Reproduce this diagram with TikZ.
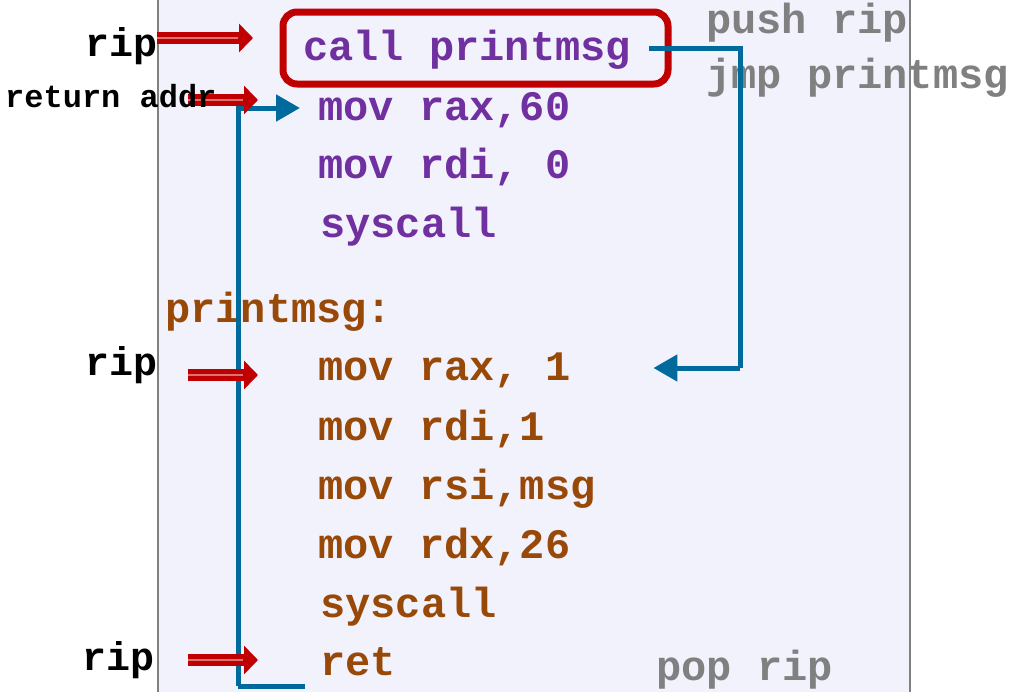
\documentclass[tikz,border=0pt]{standalone}
\usepackage{fontspec}
\newfontfamily\codefont{Liberation Mono}
\usetikzlibrary{arrows.meta}

\definecolor{cpurple}{HTML}{7030A0}
\definecolor{cbrown}{HTML}{984807}
\definecolor{chint}{HTML}{808080}
\definecolor{cred}{HTML}{C00000}
\definecolor{cflow}{HTML}{006A9C}
\definecolor{cpanel}{HTML}{F2F2FD}

% thick red pointer with a light stripe along the shaft
\newcommand{\ripptr}[2]{%
    \draw[ptr] (#1) -- (#2);
    \draw[ptrglint] (#1) -- ([xshift=-15pt]#2);
}

\begin{document}
\begin{tikzpicture}[x=1pt, y=-1pt,
    code/.style={font=\fontsize{42}{42}\selectfont\codefont\bfseries, inner sep=0pt, text height=24pt, text depth=0pt, anchor=base west},
    main/.style={code, text=cpurple},
    sub/.style={code, text=cbrown},
    hint/.style={code, text=chint},
    reg/.style={font=\fontsize{40}{40}\selectfont\codefont\bfseries, inner sep=0pt, anchor=base east},
    ptr/.style={cred, line width=12pt, -{Triangle[length=14pt, width=28pt]}},
    ptrglint/.style={cred!55!white, line width=2.5pt},
    flow/.style={cflow, line width=5pt},
    callbox/.style={cred, line width=7pt, rounded corners=14pt},
]
\useasboundingbox (0,0) rectangle (1009,691);

% Code panel
\fill[cpanel] (158,-10) rectangle (910,700);
\draw[chint, line width=2pt] (158,-10) -- (158,700);
\draw[chint, line width=2pt] (910,-10) -- (910,700);

% --- main ---
\node[main] (call) at (303,60) {call printmsg};
\node[main] (m0)   at (318,120) {mov rax,60};
\node[main] (m1)   at (318,178) {mov rdi, 0};
\node[main] (m2)   at (320,237) {syscall};

% --- printmsg ---
\node[sub] (lbl) at (165,322) {printmsg:};
\node[sub] (p0)  at (318,380) {mov rax, 1};
\node[sub] (p1)  at (318,440) {mov rdi,1};
\node[sub] (p2)  at (318,499) {mov rsi,msg};
\node[sub] (p3)  at (318,558) {mov rdx,26};
\node[sub] (p4)  at (320,617) {syscall};
\node[sub] (ret) at (320,675) {ret};

% What call / ret really do
\node[hint] (push) at (706,33) {push rip};
\node[hint] (jmp)  at (706,88) {jmp printmsg};
\node[hint] (pop)  at (656,680) {pop rip};

% Box round the call
\draw[callbox] (283,12) rectangle (668,84);

% Jump into printmsg and back
\coordinate (jump) at (740,368);
\coordinate (back) at (238,686);
\draw[flow] ([xshift=18pt]call.east) -| (jump);
\draw[flow, -{Triangle[length=24pt, width=26pt]}] (jump) -- ([xshift=83pt]p0.east);
\draw[flow] ([xshift=-15pt]ret.base west |- back) -- (back);
\draw[flow, -{Triangle[length=24pt, width=26pt]}] (back) |- ([xshift=-18pt]m0.west);

% Instruction pointer arrows
\coordinate (r0s) at (157,38);  \coordinate (r0e) at (253,38);
\coordinate (r1s) at (188,100); \coordinate (r1e) at (258,100);
\coordinate (r2s) at (188,375); \coordinate (r2e) at (258,375);
\coordinate (r3s) at (188,660); \coordinate (r3e) at (258,660);
\ripptr{r0s}{r0e}
\ripptr{r1s}{r1e}
\ripptr{r2s}{r2e}
\ripptr{r3s}{r3e}

% Register labels
\node[reg] (rip0) at (158,56) {rip};
\node[font=\fontsize{32}{32}\selectfont\codefont\bfseries, inner sep=0pt, anchor=base west] (raddr) at (5,107) {return addr};
\node[reg] (rip1) at (158,375) {rip};
\node[reg] (rip2) at (155,670) {rip};

\end{tikzpicture}
\end{document}
